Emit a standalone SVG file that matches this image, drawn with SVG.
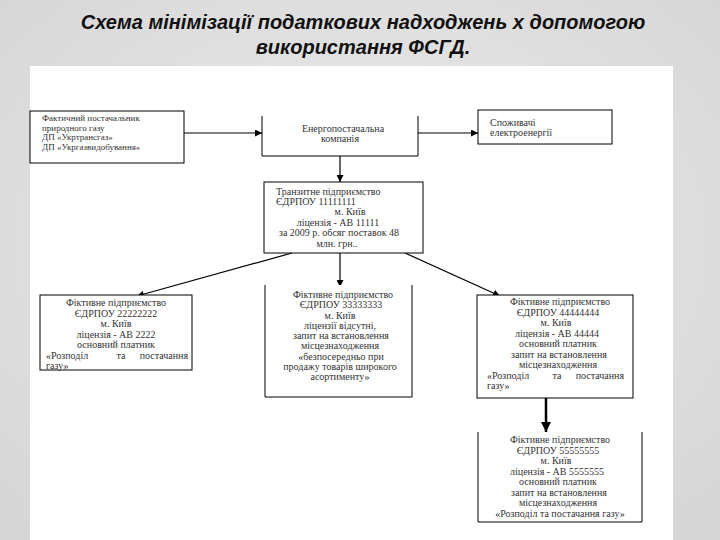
<svg xmlns="http://www.w3.org/2000/svg" width="720" height="540" viewBox="0 0 720 540">
<defs>
<radialGradient id="bg" cx="50%" cy="45%" r="70%">
<stop offset="0" stop-color="#ececec"/>
<stop offset="1" stop-color="#d6d6d6"/>
</radialGradient>
<marker id="ah" viewBox="0 0 10 10" refX="10" refY="5" markerWidth="7" markerHeight="7" markerUnits="userSpaceOnUse" orient="auto">
<path d="M0,0 L10,5 L0,10 z" fill="#000"/>
</marker>
<marker id="ahb" viewBox="0 0 10 10" refX="10" refY="5" markerWidth="4" markerHeight="4" orient="auto">
<path d="M0,0 L10,5 L0,10 z" fill="#000"/>
</marker>
</defs>
<style>
.title{font-family:"Liberation Sans",Arial,sans-serif;font-weight:bold;font-style:italic;font-size:20px;fill:#111;text-anchor:middle}
.box{fill:#fff;stroke:#000;stroke-width:1}
.side{fill:none;stroke:#000;stroke-width:1}
.t{font-family:"Liberation Serif","Times New Roman",serif;font-size:10px;fill:#333}
.t1{font-family:"Liberation Serif","Times New Roman",serif;font-size:9px;fill:#333}
.c{text-anchor:middle}
.ln{stroke:#000;stroke-width:1.2;fill:none}
</style>
<rect width="720" height="540" fill="url(#bg)"/>
<rect x="30" y="66" width="643" height="474" fill="#fff"/>
<g id="title">
<text class="title" x="363" y="29">Схема мінімізації податкових надходжень х допомогою</text>
<text class="title" x="363" y="54">використання ФСГД.</text>
</g>
<g id="connectors">
<line class="ln" x1="184" y1="133" x2="262" y2="133" marker-end="url(#ah)"/>
<line class="ln" x1="418" y1="133" x2="478" y2="133" marker-end="url(#ah)"/>
<line class="ln" x1="340" y1="156" x2="340" y2="182" marker-end="url(#ah)"/>
<line class="ln" x1="292" y1="253" x2="137" y2="296" marker-end="url(#ah)"/>
<line class="ln" x1="340" y1="253" x2="340" y2="287" marker-end="url(#ah)"/>
<line class="ln" x1="405" y1="253" x2="500" y2="296" marker-end="url(#ah)"/>
<line x1="546" y1="398" x2="546" y2="432" stroke="#000" stroke-width="2.5" marker-end="url(#ahb)"/>
</g>
<g id="n1">
<rect class="box" x="30" y="111" width="154" height="52"/>
<text class="t1" x="42" y="121">Фактичний постачальник</text>
<text class="t1" x="42" y="130.5">природного газу</text>
<text class="t1" x="42" y="140">ДП «Укртрансгаз»</text>
<text class="t1" x="42" y="149.5">ДП «Укргазвидобування»</text>
</g>
<g id="n2">
<rect x="262" y="116" width="156" height="40" fill="#fff"/>
<path class="side" d="M262,116 V156 H418 V116"/>
<text class="t c" x="343" y="132">Енергопостачальна</text>
<text class="t c" x="340" y="142">компанія</text>
</g>
<g id="n3">
<rect class="box" x="478" y="110" width="134" height="34"/>
<text class="t" x="490" y="126">Споживачі</text>
<text class="t" x="490" y="136">електроенергії</text>
</g>
<g id="n4">
<rect class="box" x="264" y="182" width="159" height="71"/>
<text class="t" x="276" y="195">Транзитне підприємство</text>
<text class="t" x="276" y="205">ЄДРПОУ 11111111</text>
<text class="t c" x="350" y="215">м. Київ</text>
<text class="t c" x="338" y="225.5">ліцензія - АВ 11111</text>
<text class="t c" x="339" y="236">за 2009 р. обсяг поставок 48</text>
<text class="t c" x="337" y="246.5">млн. грн..</text>
</g>
<g id="n5">
<rect class="box" x="40" y="295" width="152" height="75"/>
<text class="t c" x="116" y="306">Фіктивне підприємство</text>
<text class="t c" x="116" y="316.5">ЄДРПОУ 22222222</text>
<text class="t c" x="116" y="327">м. Київ</text>
<text class="t c" x="116" y="337.5">ліцензія - АВ 2222</text>
<text class="t c" x="116" y="348">основний платник</text>
<text class="t" x="46" y="358.5">«Розподіл</text>
<text class="t c" x="121" y="358.5">та</text>
<text class="t" x="188" y="358.5" text-anchor="end">постачання</text>
<text class="t" x="46" y="369">газу»</text>
</g>
<g id="n6">
<rect x="265" y="285" width="147" height="112" fill="#fff"/>
<path class="side" d="M265,285 V397 H412 V285"/>
<text class="t c" x="343" y="298">Фіктивне підприємство</text>
<text class="t c" x="341" y="308.25">ЄДРПОУ 33333333</text>
<text class="t c" x="340" y="318.5">м. Київ</text>
<text class="t c" x="340" y="328.75">ліцензії відсутні,</text>
<text class="t c" x="341" y="339">запит на встановлення</text>
<text class="t c" x="340" y="349.25">місцезнаходження</text>
<text class="t c" x="341" y="359.5">«безпосередньо при</text>
<text class="t c" x="340" y="369.75">продажу товарів широкого</text>
<text class="t c" x="340" y="380">асортименту»</text>
</g>
<g id="n7">
<rect class="box" x="477" y="295" width="156" height="103"/>
<text class="t c" x="560" y="305">Фіктивне підприємство</text>
<text class="t c" x="558" y="315.5">ЄДРПОУ 44444444</text>
<text class="t c" x="556" y="326">м. Київ</text>
<text class="t c" x="557" y="336.5">ліцензія - АВ 44444</text>
<text class="t c" x="558" y="347">основний платник</text>
<text class="t c" x="559" y="357.5">запит на встановлення</text>
<text class="t c" x="558" y="368">місцезнаходження</text>
<text class="t" x="487" y="378.5">«Розподіл</text>
<text class="t c" x="557" y="378.5">та</text>
<text class="t" x="624" y="378.5" text-anchor="end">постачання</text>
<text class="t" x="487" y="389">газу»</text>
</g>
<g id="n8">
<rect x="478" y="432" width="164" height="90" fill="#fff"/>
<path class="side" d="M478,432 V522 H642 V432"/>
<text class="t c" x="560" y="443">Фіктивне підприємство</text>
<text class="t c" x="558" y="453.5">ЄДРПОУ 55555555</text>
<text class="t c" x="556" y="464">м. Київ</text>
<text class="t c" x="557" y="474.5">ліцензія - АВ 5555555</text>
<text class="t c" x="558" y="485">основний платник</text>
<text class="t c" x="559" y="495.5">запит на встановлення</text>
<text class="t c" x="558" y="506">місцезнаходження</text>
<text class="t c" x="560" y="516.5">«Розподіл та постачання газу»</text>
</g>
</svg>
